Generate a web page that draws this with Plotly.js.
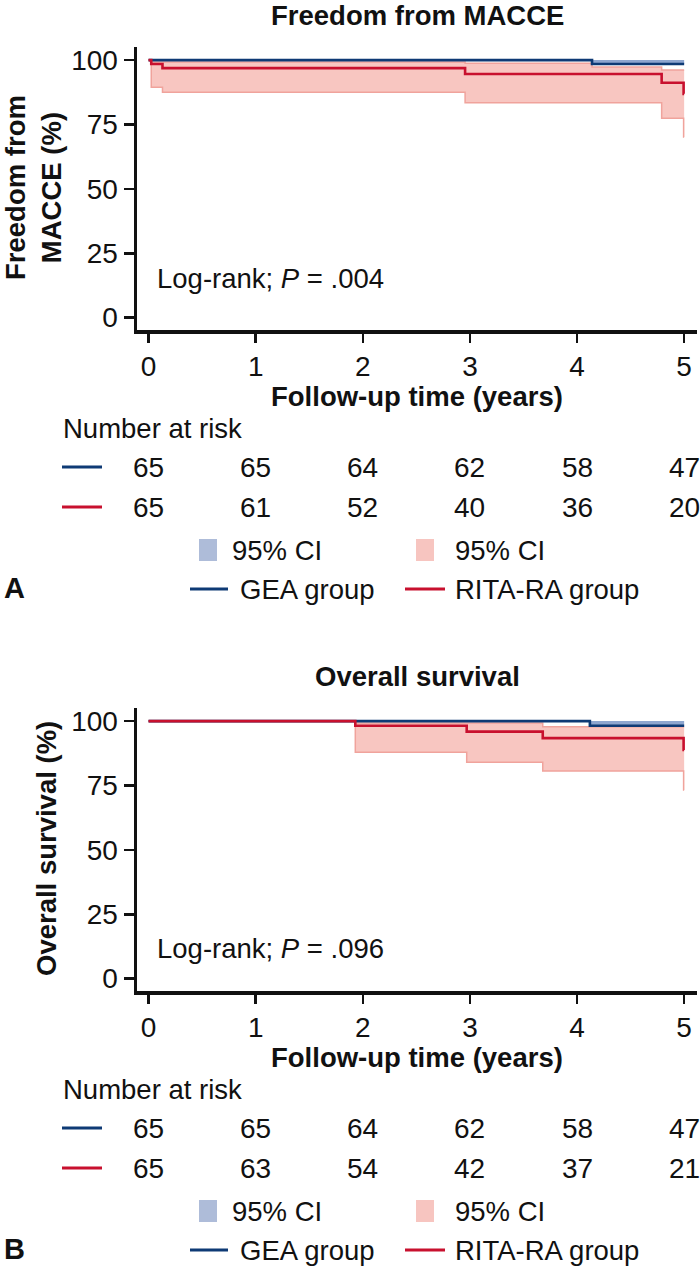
<!DOCTYPE html>
<html>
<head>
<meta charset="utf-8">
<script src="https://cdn.plot.ly/plotly-3.0.1.min.js"></script>
<style>
html,body{margin:0;padding:0;background:#fff;}
#chart{width:700px;height:1267px;}
</style>
</head>
<body>
<div id="chart"></div>
<script>
// ---------- DATA ----------
// Panel A: Freedom from MACCE
const macceGeaTime = [0, 4.14, 5.0];
const macceGeaSurv = [100, 98.5, 98.5];
const macceGeaCiUpper = [100, 100, 100];
const macceGeaCiLower = [100, 98.5, 98.5];

const macceRitaTime = [0, 0.025, 0.13, 2.955, 4.79, 4.995, 5.0];
const macceRitaSurv = [100, 98.5, 96.9, 94.6, 91.2, 86.9, 86.9];

const macceRitaCiTime  = [0, 0.025, 0.13, 2.955, 4.14, 4.79, 4.995, 5.0];
const macceRitaCiUpper = [100, 99.3, 99.3, 98.8, 97.3, 96.2, 96.2, 96.2];
const macceRitaCiLower = [100, 89.5, 87.5, 83.4, 83.4, 77.4, 70.1, 70.1];

// Panel B: Overall survival
const osGeaTime = [0, 4.12, 5.0];
const osGeaSurv = [100, 98.2, 98.2];
const osGeaCiUpper = [100, 100, 100];
const osGeaCiLower = [100, 98.2, 98.2];

const osRitaTime = [0, 1.93, 2.97, 3.68, 4.995, 5.0];
const osRitaSurv = [100, 98.2, 95.9, 93.4, 88.8, 88.8];
const osRitaCiUpper = [100, 99.3, 99.3, 97.8, 97.8, 97.8];
const osRitaCiLower = [100, 87.9, 84.0, 80.6, 73.2, 73.2];

// Number at risk
const riskYears = [0, 1, 2, 3, 4, 5];
const macceRiskGea  = [65, 65, 64, 62, 58, 47];
const macceRiskRita = [65, 61, 52, 40, 36, 20];
const osRiskGea  = [65, 65, 64, 62, 58, 47];
const osRiskRita = [65, 63, 54, 42, 37, 21];

const xTicks = [0, 1, 2, 3, 4, 5];
const yTicks = [0, 25, 50, 75, 100];

const panelTitles = ["Freedom from MACCE", "Overall survival"];
const yTitles = ["Freedom from<br>MACCE (%)", "Overall survival (%)"];
const xTitle = "Follow-up time (years)";
const pTexts = ["Log-rank; <i>P</i> = .004", "Log-rank; <i>P</i> = .096"];
const panelLetters = ["A", "B"];
const groupNames = ["GEA group", "RITA-RA group"];
const ciLabel = "95% CI";

// ---------- STYLE ----------
const W = 700, H = 1267;
const FONT = "Liberation Sans, Arial, Helvetica, sans-serif";
const BLUE = "#0e3a75";
const RED = "#c8102e";
const PINK_FILL = "#f8c6c1";
const PINK_EDGE = "#f0a39c";
const BLUE_FILL = "#8ea6cf";
const BLUE_LEG = "#aebcd9";
const PINK_LEG = "#f7c5c0";
const FS = 27.5;      // normal text
const FSN = 28;       // numbers (ticks, risk table)
const FSB = 27.5;     // bold titles

const px = v => v / W;
const py = v => 1 - v / H;

const OFF = 661; // vertical offset between panel A and B

const traces = [];
function addPanel(ax, t) {
  const xa = ax === 1 ? "x" : "x2";
  const ya = ax === 1 ? "y" : "y2";
  traces.push({x: t.ritaCiTime, y: t.ritaCiUpper, xaxis: xa, yaxis: ya, mode: "lines",
    line: {shape: "hv", color: PINK_EDGE, width: 1.5}, hoverinfo: "skip", showlegend: false});
  traces.push({x: t.ritaCiTime, y: t.ritaCiLower, xaxis: xa, yaxis: ya, mode: "lines", fill: "tonexty",
    fillcolor: PINK_FILL, line: {shape: "hv", color: PINK_EDGE, width: 1.5}, hoverinfo: "skip", showlegend: false});
  traces.push({x: t.geaTime, y: t.geaCiUpper, xaxis: xa, yaxis: ya, mode: "lines",
    line: {shape: "hv", color: BLUE_FILL, width: 0}, hoverinfo: "skip", showlegend: false});
  traces.push({x: t.geaTime, y: t.geaCiLower, xaxis: xa, yaxis: ya, mode: "lines", fill: "tonexty",
    fillcolor: BLUE_FILL, line: {shape: "hv", color: BLUE_FILL, width: 0}, hoverinfo: "skip", showlegend: false});
  traces.push({x: t.geaTime, y: t.geaSurv, xaxis: xa, yaxis: ya, mode: "lines",
    line: {shape: "hv", color: BLUE, width: 2.6}, name: groupNames[0], showlegend: false});
  traces.push({x: t.ritaTime, y: t.ritaSurv, xaxis: xa, yaxis: ya, mode: "lines",
    line: {shape: "hv", color: RED, width: 2.6}, name: groupNames[1], showlegend: false});
}

addPanel(1, {geaTime: macceGeaTime, geaSurv: macceGeaSurv, geaCiUpper: macceGeaCiUpper, geaCiLower: macceGeaCiLower,
  ritaTime: macceRitaTime, ritaSurv: macceRitaSurv, ritaCiTime: macceRitaCiTime,
  ritaCiUpper: macceRitaCiUpper, ritaCiLower: macceRitaCiLower});
addPanel(2, {geaTime: osGeaTime, geaSurv: osGeaSurv, geaCiUpper: osGeaCiUpper, geaCiLower: osGeaCiLower,
  ritaTime: osRitaTime, ritaSurv: osRitaSurv, ritaCiTime: osRitaTime,
  ritaCiUpper: osRitaCiUpper, ritaCiLower: osRitaCiLower});

const plotLeft = 137, plotRight = 697, plotTop = 46.7, plotBottom = 330;

function xAxis(anchor) {
  return {
    domain: [px(plotLeft), px(plotRight)], range: [-0.108, 5.12], anchor: anchor,
    showline: true, linecolor: "#111", linewidth: 3.5, zeroline: false, showgrid: false,
    ticks: "outside", ticklen: 9, tickwidth: 2.5, tickcolor: "#111",
    tickvals: xTicks, ticktext: xTicks.map(String), ticklabelstandoff: 0,
    tickfont: {family: FONT, size: FSN, color: "#111"}, fixedrange: true
  };
}
function yAxis(off, anchor) {
  return {
    domain: [py(plotBottom + off), py(plotTop + off)], range: [-4.8, 105.2], anchor: anchor,
    showline: true, linecolor: "#111", linewidth: 3.5, zeroline: false, showgrid: false,
    ticks: "outside", ticklen: 10, tickwidth: 2.5, tickcolor: "#111",
    tickvals: yTicks, ticktext: yTicks.map(String), ticklabelstandoff: 0,
    tickfont: {family: FONT, size: FSN, color: "#111"}, fixedrange: true
  };
}

const annotations = [];
const shapes = [];
function txt(text, x, y, opts) {
  annotations.push(Object.assign({text: text, x: px(x), y: py(y), xref: "paper", yref: "paper",
    showarrow: false, xanchor: "center", yanchor: "middle", borderpad: 0,
    font: {family: FONT, size: FS, color: "#111"}}, opts || {}));
}
function hline(x0, x1, y, color, w) {
  shapes.push({type: "line", xref: "paper", yref: "paper", x0: px(x0), x1: px(x1), y0: py(y), y1: py(y),
    line: {color: color, width: w}});
}
function rect(x0, x1, y0, y1, color) {
  shapes.push({type: "rect", xref: "paper", yref: "paper", x0: px(x0), x1: px(x1), y0: py(y1), y1: py(y0),
    fillcolor: color, line: {width: 0}});
}
const boldFont = {family: FONT, size: FSB, color: "#111", weight: "bold"};

const riskSets = [[macceRiskGea, macceRiskRita], [osRiskGea, osRiskRita]];
[0, 1].forEach(i => {
  const o = i * OFF;
  const xr = i === 0 ? "x" : "x2";
  txt(panelTitles[i], 417, 15 + o, {font: boldFont});
  txt(xTitle, 417, 396 + o, {font: boldFont});
  if (i === 0) {
    txt(yTitles[0], 33, 188 + o, {textangle: -90, font: boldFont});
  } else {
    txt(yTitles[1], 46, 188 + o, {textangle: -90, font: boldFont});
  }
  txt(pTexts[i], 156, (i === 0 ? 279 : 287) + o, {xanchor: "left"});
  txt("Number at risk", 62, 428 + o, {xanchor: "left"});
  const rows = [[467, BLUE], [507, RED]];
  rows.forEach((r, j) => {
    hline(62, 102, r[0] + o, r[1], 3);
    riskYears.forEach((yr, k) => {
      annotations.push({text: String(riskSets[i][j][k]), x: yr, xref: xr, y: py(r[0] + o), yref: "paper",
        showarrow: false, xanchor: "center", yanchor: "middle",
        font: {family: FONT, size: FSN, color: "#111"}});
    });
  });
  rect(199, 217, 539 + o, 561 + o, BLUE_LEG);
  txt(ciLabel, 231, 550 + o, {xanchor: "left"});
  rect(416, 434, 539 + o, 561 + o, PINK_LEG);
  txt(ciLabel, 454, 550 + o, {xanchor: "left"});
  hline(190, 228, 589 + o, BLUE, 3);
  txt(groupNames[0], 239, 589 + o, {xanchor: "left"});
  hline(405, 445, 589 + o, RED, 3);
  txt(groupNames[1], 454, 589 + o, {xanchor: "left"});
  txt(panelLetters[i], 14, 588 + o, {font: {family: FONT, size: 29, color: "#111", weight: "bold"}});
});

const layout = {
  width: W, height: H, margin: {l: 0, r: 0, t: 0, b: 0},
  paper_bgcolor: "#fff", plot_bgcolor: "rgba(0,0,0,0)", showlegend: false,
  xaxis: xAxis("y"), yaxis: yAxis(0, "x"),
  xaxis2: xAxis("y2"), yaxis2: yAxis(OFF, "x2"),
  annotations: annotations, shapes: shapes
};

Plotly.newPlot("chart", traces, layout, {staticPlot: true, displayModeBar: false});
</script>
</body>
</html>
